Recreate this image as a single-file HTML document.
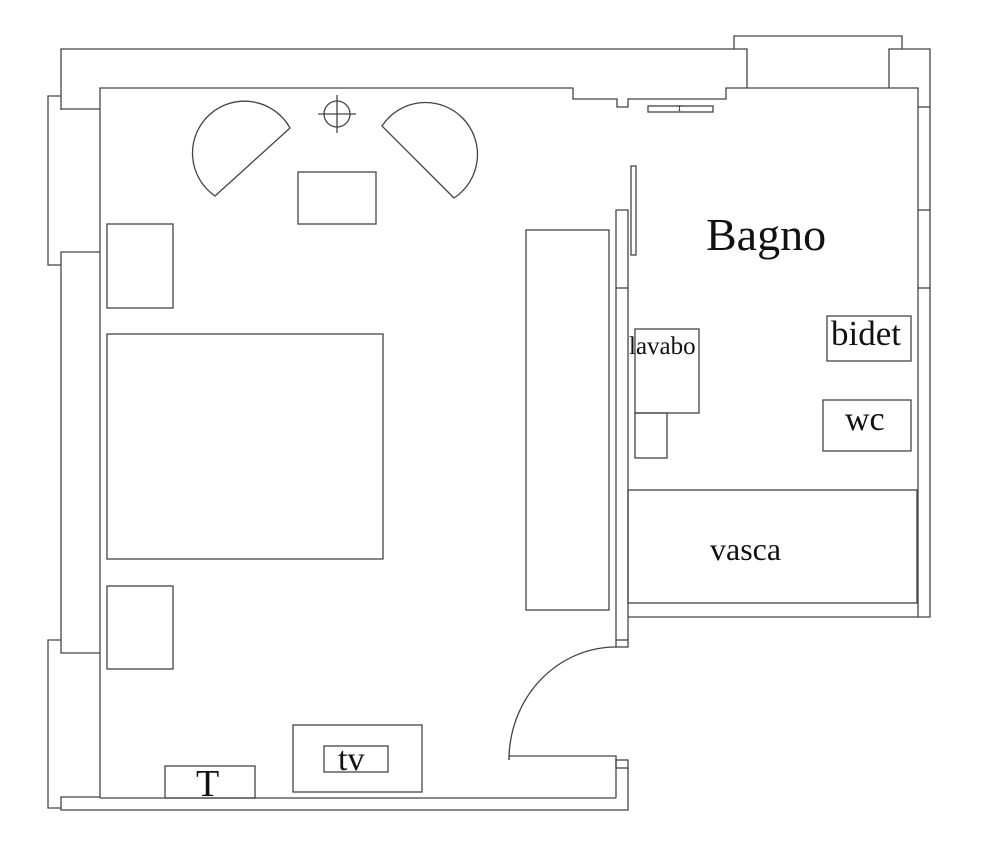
<!DOCTYPE html>
<html><head><style>
html,body{margin:0;padding:0;background:#fff;}
svg{display:block;}
text{font-family:"Liberation Serif",serif;fill:#111;}
</style></head><body>
<svg width="1000" height="841" viewBox="0 0 1000 841" xmlns="http://www.w3.org/2000/svg">
<g fill="none" stroke="#444" stroke-width="1.3">
<polyline points="61,110 61,49 747,49 747,88"/>
<polyline points="61,109 100,109"/>
<polyline points="734,49 734,36 902,36 902,49"/>
<polyline points="889,88 889,49 930,49 930,617 628,617"/>
<line x1="918" y1="107" x2="930" y2="107"/><line x1="918" y1="210" x2="930" y2="210"/><line x1="918" y1="288" x2="930" y2="288"/>
<polyline points="100,798 100,88 573,88 573,99 617,99 617,107 628,107 628,99 726,99 726,88 918,88 918,617"/>
<rect x="648" y="106" width="65" height="6"/>
<polyline points="61,96 48,96 48,265 61,265"/>
<polyline points="100,252 61,252 61,653 100,653"/>
<polyline points="61,640 48,640 48,808 61,808"/>
<polyline points="100,797 61,797 61,810 628,810 628,768"/>
<line x1="100" y1="798" x2="616" y2="798"/>
<line x1="616" y1="798" x2="616" y2="760"/>
<rect x="616" y="760" width="12" height="8"/>
<path d="M616,647 A107,113 0 0,0 509,760"/>
<polyline points="509,760 509,756 616,756 616,760"/>
<rect x="616" y="640" width="12" height="7"/>
<polyline points="616,640 616,210 628,210 628,640"/>
<line x1="616" y1="288" x2="628" y2="288"/>
<rect x="631" y="166" width="5" height="89"/>
<rect x="526" y="230" width="83" height="380"/>
<rect x="635" y="329" width="64" height="84"/>
<rect x="635" y="413" width="32" height="45"/>
<rect x="827" y="316" width="84" height="45"/>
<rect x="823" y="400" width="88" height="51"/>
<rect x="628" y="490" width="289" height="113"/>
<rect x="107" y="224" width="66" height="84"/>
<rect x="107" y="334" width="276" height="225"/>
<rect x="107" y="586" width="66" height="83"/>
<rect x="165" y="766" width="90" height="32"/>
<rect x="293" y="725" width="129" height="67"/>
<rect x="324" y="746" width="64" height="26"/>
<rect x="298" y="172" width="78" height="52"/>
<path d="M290,128 A52,52 0 1,0 215,196 Z"/>
<path d="M382,126 A52,52 0 1,1 454,198 Z"/>
<circle cx="337" cy="114" r="13"/>
<line x1="318" y1="114" x2="356" y2="114"/><line x1="337" y1="95" x2="337" y2="133"/>
</g>
<text x="706" y="250" font-size="46">Bagno</text>
<text x="831" y="345" font-size="35">bidet</text>
<text x="845" y="430" font-size="34">wc</text>
<text x="710" y="560" font-size="32">vasca</text>
<text x="629" y="354" font-size="25">lavabo</text>
<text x="338" y="770" font-size="34">tv</text>
<text x="196" y="796" font-size="38">T</text>
<text x="677" y="111" font-size="8">T</text>
</svg>
</body></html>
